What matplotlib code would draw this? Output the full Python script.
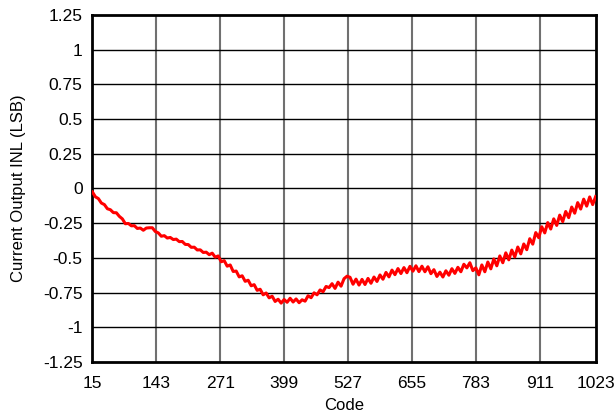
import numpy as np
import matplotlib.pyplot as plt

plt.rcParams['font.family'] = ['Liberation Sans', 'DejaVu Sans']

# DAC codes, one reading every 6 codes from 15 to 1023
codes = np.arange(15, 1024, 6)

# current output INL in LSB
inl = [
    -0.025, -0.060, -0.073, -0.105, -0.116, -0.146, -0.153, -0.174, -0.175, -0.201,
    -0.219, -0.254, -0.252, -0.269, -0.268, -0.288, -0.285, -0.301, -0.285, -0.283,
    -0.283, -0.310, -0.320, -0.344, -0.340, -0.357, -0.353, -0.368, -0.365, -0.383,
    -0.382, -0.403, -0.404, -0.424, -0.423, -0.443, -0.442, -0.461, -0.459, -0.477,
    -0.466, -0.495, -0.486, -0.528, -0.520, -0.560, -0.551, -0.598, -0.595, -0.637,
    -0.629, -0.669, -0.661, -0.701, -0.693, -0.734, -0.726, -0.766, -0.753, -0.788,
    -0.776, -0.814, -0.798, -0.826, -0.800, -0.820, -0.791, -0.818, -0.796, -0.823,
    -0.802, -0.812, -0.773, -0.787, -0.752, -0.766, -0.731, -0.744, -0.706, -0.714,
    -0.686, -0.720, -0.675, -0.704, -0.650, -0.632, -0.640, -0.690, -0.653, -0.696,
    -0.655, -0.692, -0.648, -0.683, -0.638, -0.670, -0.623, -0.654, -0.605, -0.637,
    -0.588, -0.621, -0.577, -0.613, -0.570, -0.607, -0.561, -0.596, -0.557, -0.599,
    -0.560, -0.600, -0.564, -0.614, -0.585, -0.634, -0.603, -0.638, -0.593, -0.625,
    -0.578, -0.612, -0.568, -0.600, -0.546, -0.572, -0.535, -0.592, -0.572, -0.622,
    -0.551, -0.600, -0.530, -0.579, -0.508, -0.557, -0.486, -0.535, -0.464, -0.514,
    -0.444, -0.493, -0.422, -0.471, -0.400, -0.441, -0.362, -0.401, -0.318, -0.355,
    -0.276, -0.320, -0.246, -0.292, -0.219, -0.266, -0.192, -0.239, -0.166, -0.210,
    -0.134, -0.178, -0.102, -0.148, -0.077, -0.127, -0.061, -0.116, -0.058,
]

x_ticks = [15, 143, 271, 399, 527, 655, 783, 911, 1023]
y_ticks = [-1.25, -1, -0.75, -0.5, -0.25, 0, 0.25, 0.5, 0.75, 1, 1.25]
y_labels = ['-1.25', '-1', '-0.75', '-0.5', '-0.25', '0', '0.25', '0.5', '0.75', '1', '1.25']

fig = plt.figure(figsize=(6.16, 4.17), dpi=100)
ax = fig.add_axes([0.150, 0.132, 0.817, 0.832])

ax.plot(codes, inl, color='#ff0000', linewidth=2.2, zorder=3)

ax.set_xlim(15, 1023)
ax.set_ylim(-1.25, 1.25)
ax.set_xticks(x_ticks)
ax.set_xticklabels([str(t) for t in x_ticks])
ax.set_yticks(y_ticks)
ax.set_yticklabels(y_labels)
ax.tick_params(axis='y', length=0, labelsize=12.5, pad=7)
ax.tick_params(axis='x', length=0, labelsize=12.5, pad=10)

# vertical grid grey, horizontal grid black
for t in x_ticks[1:-1]:
    ax.axvline(t, color='#707070', linewidth=1.5, zorder=1)
for t in y_ticks[1:-1]:
    ax.axhline(t, color='black', linewidth=1.0, zorder=1)

for s in ax.spines.values():
    s.set_linewidth(2.0)
    s.set_color('black')

ax.set_xlabel('Code', fontsize=12, labelpad=5)
ax.set_ylabel('Current Output INL (LSB)', fontsize=12, labelpad=12)

fig.savefig('out.png', dpi=100)
